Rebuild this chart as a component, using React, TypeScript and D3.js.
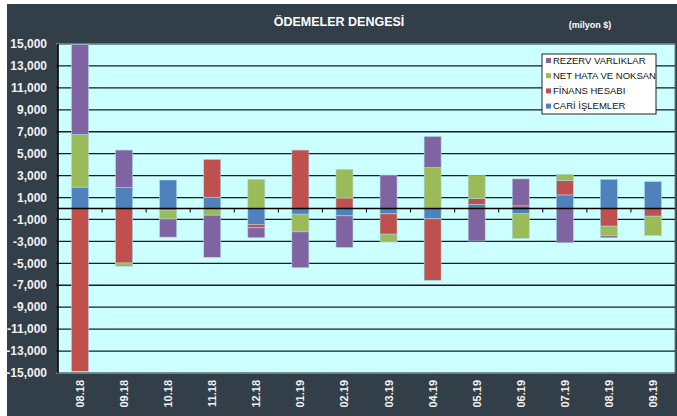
import * as d3 from 'd3';

const months = ['08.18', '09.18', '10.18', '11.18', '12.18', '01.19', '02.19', '03.19', '04.19', '05.19', '06.19', '07.19', '08.19', '09.19'];

// milyon $
const cariIslemler = [1950, 1900, 2600, 1030, -1450, -520, -670, -490, -940, 360, -480, 1240, 2660, 2450];
const finansHesabi = [-14850, -4970, -150, 3450, -310, 5330, 960, -1850, -5610, 540, 240, 1310, -1610, -700];
const netHata = [4800, -300, -800, -610, 2660, -1610, 2610, -720, 3730, 2100, -2250, 570, -880, -1750];
const rezervVarliklar = [8200, 3430, -1660, -3840, -910, -3270, -2880, 3050, 2840, -2970, 2460, -3130, -180, -40];

const yTicks = [15000, 13000, 11000, 9000, 7000, 5000, 3000, 1000, -1000, -3000, -5000, -7000, -9000, -11000, -13000, -15000];

const series = [
  { key: 'cari', label: 'CARİ İŞLEMLER', color: '#4F81BD', values: cariIslemler },
  { key: 'finans', label: 'FİNANS HESABI', color: '#C0504D', values: finansHesabi },
  { key: 'hata', label: 'NET HATA VE NOKSAN', color: '#9BBB59', values: netHata },
  { key: 'rezerv', label: 'REZERV VARLIKLAR', color: '#8064A2', values: rezervVarliklar },
];

const W = 677;
const H = 416;
const plot = { left: 58, right: 675, top: 44, bottom: 373 };
const font = '"Liberation Sans", Arial, sans-serif';

export default function App() {
  const x = d3.scaleBand<string>()
    .domain(months)
    .range([plot.left, plot.right])
    .paddingInner(0.614)
    .paddingOuter(0.307);

  const y = d3.scaleLinear()
    .domain([-15000, 15000])
    .range([plot.bottom, plot.top]);

  // table for the stack
  const rows = months.map((m, i) => {
    const r: any = { month: m };
    series.forEach(s => { r[s.key] = s.values[i]; });
    return r;
  });

  const stacked = d3.stack<any>()
    .keys(series.map(s => s.key))
    .offset(d3.stackOffsetDiverging)(rows);

  const step = x.step();
  const zero = y(0);

  // legend shows series in reverse order, like Excel does
  const legendItems = [...series].reverse();

  return (
    <div style={{ position: 'absolute', left: 0, top: 0 }}>
      <svg width={W} height={H} style={{ display: 'block', fontFamily: font }}>
        <rect x={0} y={0} width={W} height={H} fill="#ffffff" />
        <rect x={7} y={4} width={W - 7} height={H - 4} fill="#323E48" />

        <text x={339} y={26} textAnchor="middle" fill="#ffffff" fontSize={12.5} fontWeight="bold">
          ÖDEMELER DENGESİ
        </text>
        <text x={590} y={28} textAnchor="middle" fill="#ffffff" fontSize={9} fontWeight="bold">
          (milyon $)
        </text>

        {/* plot area */}
        <rect x={plot.left} y={plot.top} width={plot.right - plot.left} height={plot.bottom - plot.top}
          fill="#CCFFFF" stroke="#6f8585" strokeWidth={1} />

        {/* gridlines */}
        {yTicks.map(t => (
          <line key={t} x1={plot.left - 2} x2={plot.right} y1={y(t)} y2={y(t)}
            stroke={t === 15000 || t === -15000 ? '#6f8585' : '#1a1a1a'} strokeWidth={1.3} />
        ))}

        {/* bars */}
        {stacked.map((layer, li) => (
          <g key={layer.key} fill={series[li].color}>
            {layer.map((d, i) => (
              <rect key={i}
                x={x(months[i])}
                y={y(Math.max(d[0], d[1]))}
                width={x.bandwidth()}
                height={Math.abs(y(d[0]) - y(d[1]))}
                stroke="#a8d8e8" strokeWidth={0.6} />
            ))}
          </g>
        ))}

        {/* zero axis with ticks */}
        <line x1={plot.left} x2={plot.right} y1={zero} y2={zero} stroke="#000" strokeWidth={1.5} />
        {months.slice(1).map((m, i) => (
          <line key={m} x1={plot.left + step * (i + 1)} x2={plot.left + step * (i + 1)}
            y1={zero} y2={zero + 4} stroke="#000" strokeWidth={1} />
        ))}
        {/* left axis */}
        <line x1={plot.left} x2={plot.left} y1={plot.top} y2={plot.bottom} stroke="#000" strokeWidth={1.5} />

        {/* y labels */}
        {yTicks.map(t => (
          <text key={t} x={47} y={y(t)} dy="0.35em" textAnchor="end" fill="#f2f2f2"
            fontSize={12} fontWeight="bold">
            {d3.format(',')(t).replace('−', '-')}
          </text>
        ))}

        {/* x labels */}
        {months.map(m => {
          const cx = (x(m) as number) + x.bandwidth() / 2;
          return (
            <text key={m} transform={`translate(${cx + 4},380) rotate(-90)`} textAnchor="end"
              fill="#f2f2f2" fontSize={11} fontWeight="bold">
              {m}
            </text>
          );
        })}

        {/* legend */}
        <rect x={542} y={54} width={114} height={60} fill="#ffffff" stroke="#222" strokeWidth={1} />
        {legendItems.map((s, i) => (
          <g key={s.key} transform={`translate(546,${60.5 + i * 15.2})`}>
            <rect x={0} y={-2.5} width={5} height={5} fill={s.color} />
            <text x={7} y={0} dy="0.35em" fontSize={9.5} fill="#111">{s.label}</text>
          </g>
        ))}
      </svg>
    </div>
  );
}
